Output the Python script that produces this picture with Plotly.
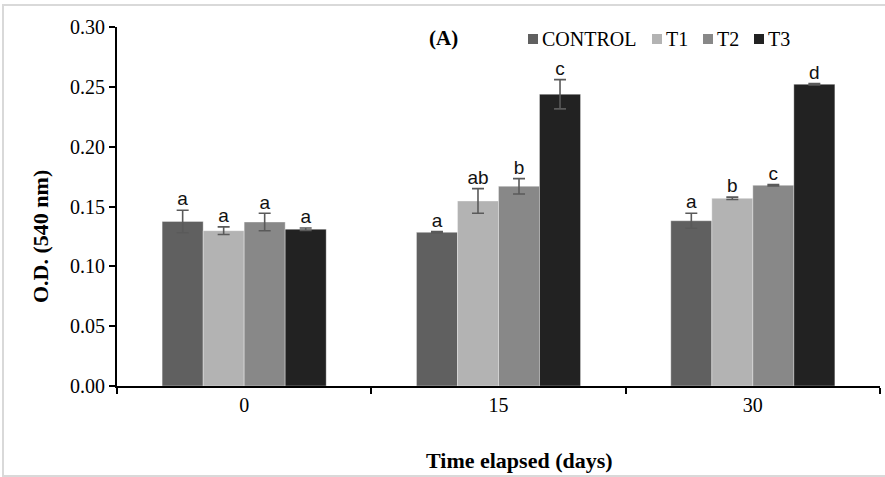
import plotly.graph_objects as go

days = ["0", "15", "30"]
series = ["CONTROL", "T1", "T2", "T3"]
colors = ["#606060", "#b3b3b3", "#888888", "#222222"]
control = [0.1375, 0.1284, 0.1381]
t1 = [0.1298, 0.1546, 0.1568]
t2 = [0.1370, 0.1669, 0.1677]
t3 = [0.1310, 0.2438, 0.2521]
control_err = [0.0094, 0.0006, 0.0063]
t1_err = [0.0032, 0.0103, 0.0010]
t2_err = [0.0073, 0.0064, 0.0006]
t3_err = [0.0010, 0.0122, 0.0006]
control_lbl = ["a", "a", "a"]
t1_lbl = ["a", "ab", "b"]
t2_lbl = ["a", "b", "c"]
t3_lbl = ["a", "c", "d"]

vals = [control, t1, t2, t3]
errs = [control_err, t1_err, t2_err, t3_err]
lbls = [control_lbl, t1_lbl, t2_lbl, t3_lbl]

W, H = 885, 477
L, R, T, B = 117, 5, 27, 91
pw, ph = W - L - R, H - T - B
SERIF = "Liberation Serif"

fig = go.Figure()
for i, name in enumerate(series):
    fig.add_trace(go.Bar(
        x=days, y=vals[i], name=name, offsetgroup=str(i),
        marker=dict(color=colors[i], line=dict(color="rgba(255,255,255,0.35)", width=1)),
        error_y=dict(type="data", array=errs[i], color="#5a5a5a", thickness=1.6, width=6),
        showlegend=False,
    ))
for i, name in enumerate(series):
    fig.add_trace(go.Scatter(
        x=days, y=[v + e for v, e in zip(vals[i], errs[i])], mode="text",
        text=lbls[i], textposition="top center", offsetgroup=str(i),
        textfont=dict(family="Liberation Sans", size=19, color="#111111"),
        showlegend=False, hoverinfo="skip",
    ))

def px(x):
    return (x - L) / pw

def py(y):
    return (H - B - y) / ph

fig.add_shape(type="rect", xref="paper", yref="paper",
              x0=px(3), x1=px(895), y0=py(476), y1=py(5),
              line=dict(color="#d9d9d9", width=2), layer="below")
fig.add_annotation(text="<b>(A)</b>", xref="paper", yref="paper",
                   x=px(427), y=py(38), xanchor="left", yanchor="middle", showarrow=False,
                   font=dict(family=SERIF, size=21, color="black"))

# axis titles placed as in the original
fig.add_annotation(text="<b>Time elapsed (days)</b>", xref="paper", yref="paper",
                   x=px(519), y=py(460), xanchor="center", yanchor="middle", showarrow=False,
                   font=dict(family=SERIF, size=22, color="black"))
fig.add_annotation(text="<b>O.D. (540 nm)</b>", xref="paper", yref="paper",
                   x=px(40), y=py(237), xanchor="center", yanchor="middle", showarrow=False,
                   textangle=-90, font=dict(family=SERIF, size=22, color="black"))

# legend (Excel-style: small square immediately followed by the name)
leg_x = [528, 652, 703, 754]
for i, name in enumerate(series):
    x0 = leg_x[i]
    fig.add_shape(type="rect", xref="paper", yref="paper",
                  x0=px(x0), x1=px(x0 + 10), y0=py(44), y1=py(34),
                  fillcolor=colors[i], line=dict(width=0))
    fig.add_annotation(text=name, xref="paper", yref="paper",
                       x=px(x0 + 12), y=py(39), xanchor="left", yanchor="middle",
                       showarrow=False, font=dict(family=SERIF, size=20, color="black"))

fig.update_layout(
    width=W, height=H, margin=dict(l=L, r=R, t=T, b=B),
    barmode="group", bargap=0.355, bargroupgap=0,
    scattermode="group", scattergap=0.355,
    plot_bgcolor="white", paper_bgcolor="white",
    font=dict(family=SERIF, size=20, color="black"),
    showlegend=False,
    xaxis=dict(type="category", showline=True, linecolor="black", linewidth=2,
               ticks="outside", tickson="boundaries", ticklen=6, tickcolor="black", tickwidth=1.5,
               showgrid=False, zeroline=False, tickfont=dict(size=20)),
    yaxis=dict(range=[0, 0.30], dtick=0.05, tickformat=".2f", showline=True,
               linecolor="black", linewidth=2, ticks="outside", ticklen=6,
               tickcolor="black", tickwidth=1.5, showgrid=False, zeroline=False,
               tickfont=dict(size=20)),
)
fig.write_html("out.html", config={"displayModeBar": False},
               post_script="document.body.style.margin='0px';")
